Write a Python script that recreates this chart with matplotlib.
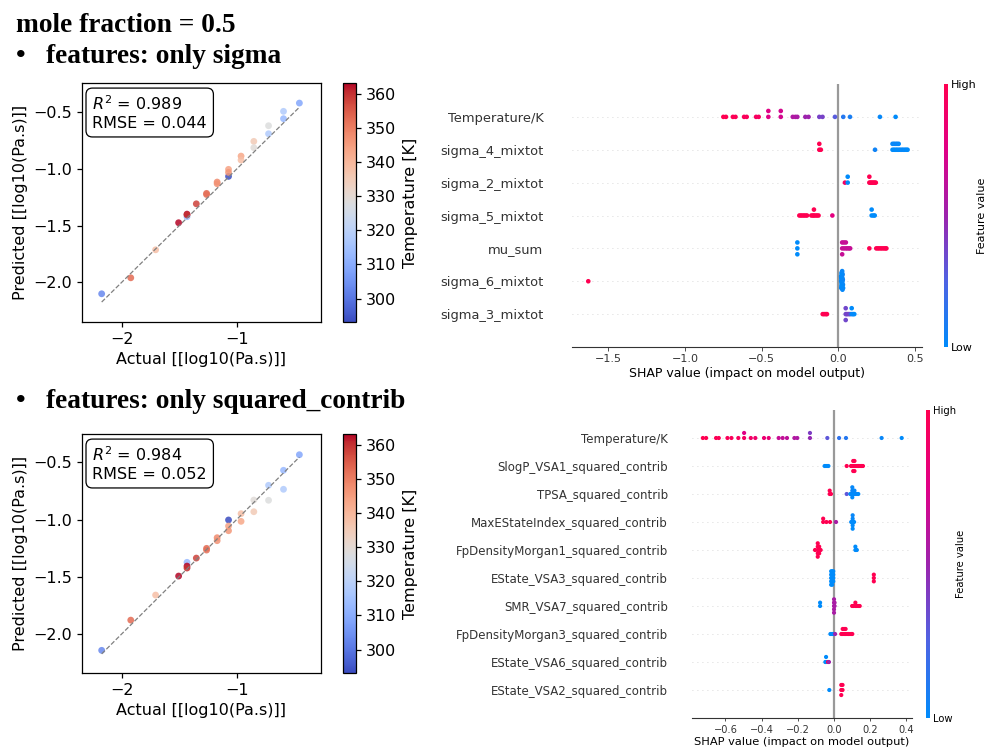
import numpy as np
import matplotlib.pyplot as plt
from matplotlib.colors import LinearSegmentedColormap, Normalize
from matplotlib.cm import ScalarMappable

#%% parity data (test set, mole fraction = 0.5)
actual = [-2.174, -1.921, -1.705, -1.505, -1.432, -1.432, -1.432, -1.351, -1.262, -1.262,
          -1.170, -1.170, -1.071, -1.071, -1.071, -0.962, -0.962, -0.851, -0.851, -0.723,
          -0.723, -0.593, -0.593, -0.455]
temp_K = [303, 353, 338, 363, 313, 363, 360, 358, 353, 352,
          348, 347, 293, 344, 346, 343, 338, 335, 329, 328,
          318, 318, 313, 309]
pred_sigma = [-2.101, -1.960, -1.713, -1.474, -1.421, -1.398, -1.405, -1.307, -1.215, -1.225,
              -1.115, -1.130, -1.065, -1.003, -1.030, -0.886, -0.921, -0.756, -0.812, -0.618,
              -0.689, -0.491, -0.556, -0.418]
pred_sq = [-2.143, -1.879, -1.660, -1.494, -1.374, -1.407, -1.424, -1.337, -1.252, -1.267,
           -1.159, -1.185, -1.004, -1.057, -1.098, -1.016, -0.949, -0.932, -0.830, -0.832,
           -0.701, -0.736, -0.570, -0.434]

#%% SHAP data, features ordered by importance
sigma_features = ['Temperature/K', 'sigma_4_mixtot', 'sigma_2_mixtot', 'sigma_5_mixtot',
                  'mu_sum', 'sigma_6_mixtot', 'sigma_3_mixtot']
sigma_shap = [
    [-0.750, -0.733, -0.688, -0.671, -0.615, -0.598, -0.537, -0.520, -0.457, -0.457, -0.376, -0.376,
     -0.298, -0.281, -0.268, -0.216, -0.195, -0.125, -0.104, -0.023, 0.031, 0.075, 0.270, 0.372],
    [-0.125, -0.125, -0.115, 0.238, 0.352, 0.352, 0.362, 0.362, 0.372, 0.372, 0.382, 0.382,
     0.392, 0.392, 0.402, 0.412, 0.422, 0.432, 0.442, 0.450],
    [0.042, 0.060, 0.060, 0.201, 0.201, 0.208, 0.215, 0.222, 0.229, 0.236, 0.243],
    [-0.255, -0.245, -0.235, -0.225, -0.215, -0.205, -0.177, -0.167, -0.160, -0.160, -0.150, -0.140,
     -0.130, -0.040, 0.216, 0.216, 0.228, 0.236],
    [-0.268, -0.268, -0.268, 0.024, 0.024, 0.024, 0.036, 0.036, 0.048, 0.048, 0.058, 0.068, 0.076,
     0.201, 0.246, 0.256, 0.266, 0.276, 0.286, 0.296, 0.306, 0.312],
    [-1.630, 0.017, 0.026, 0.019, 0.028, 0.021, 0.023, 0.018, 0.025, 0.020, 0.029, 0.022, 0.024,
     0.017, 0.027, 0.019, 0.021, 0.030, 0.023, 0.018, 0.026, 0.020, 0.024],
    [-0.103, -0.093, -0.083, -0.075, 0.047, 0.047, 0.047, 0.055, 0.065, 0.075, 0.086, 0.086, 0.095, 0.103],
]
sigma_fval = [
    [1.0, 1.0, 0.98, 0.98, 0.96, 0.96, 0.93, 0.93, 0.75, 0.75, 0.70, 0.70,
     0.57, 0.57, 0.55, 0.50, 0.50, 0.38, 0.38, 0.28, 0.12, 0.08, 0.02, 0.0],
    [1.0, 1.0, 1.0, 0.05, 0.0, 0.02, 0.0, 0.03, 0.0, 0.02, 0.0, 0.04, 0.0, 0.02, 0.0, 0.03, 0.0, 0.02, 0.0, 0.0],
    [0.92, 0.0, 0.0, 1.0, 1.0, 1.0, 1.0, 1.0, 1.0, 1.0, 1.0],
    [1.0, 1.0, 1.0, 1.0, 1.0, 1.0, 1.0, 1.0, 1.0, 1.0, 1.0, 1.0, 1.0, 0.78, 0.0, 0.0, 0.0, 0.0],
    [0.0, 0.0, 0.0, 0.65, 0.65, 0.65, 0.65, 0.65, 0.65, 0.65, 0.65, 0.65, 0.65,
     1.0, 1.0, 1.0, 1.0, 1.0, 1.0, 1.0, 1.0, 1.0],
    [1.0] + [0.0, 0.03, 0.0, 0.05, 0.0, 0.02, 0.0, 0.04, 0.0, 0.02, 0.0,
             0.03, 0.0, 0.05, 0.0, 0.02, 0.0, 0.04, 0.0, 0.02, 0.0, 0.03],
    [1.0, 1.0, 1.0, 1.0, 0.36, 0.36, 0.36, 0.38, 0.38, 0.34, 0.0, 0.0, 0.02, 0.0],
]

sq_features = ['Temperature/K', 'SlogP_VSA1_squared_contrib', 'TPSA_squared_contrib',
               'MaxEStateIndex_squared_contrib', 'FpDensityMorgan1_squared_contrib',
               'EState_VSA3_squared_contrib', 'SMR_VSA7_squared_contrib',
               'FpDensityMorgan3_squared_contrib', 'EState_VSA6_squared_contrib',
               'EState_VSA2_squared_contrib']
sq_shap = [
    [-0.725, -0.707, -0.652, -0.637, -0.589, -0.567, -0.529, -0.497, -0.497, -0.460, -0.435, -0.387,
     -0.361, -0.306, -0.284, -0.260, -0.219, -0.203, -0.133, -0.133, -0.037, 0.028, 0.066, 0.263, 0.374],
    [-0.052, -0.045, -0.038, -0.031, 0.070, 0.094, 0.100, 0.106, 0.106, 0.106, 0.113, 0.113, 0.113,
     0.120, 0.128, 0.136, 0.144, 0.152, 0.160],
    [-0.024, -0.024, -0.017, 0.070, 0.090, 0.096, 0.101, 0.101, 0.101, 0.101, 0.107, 0.107, 0.113,
     0.113, 0.120, 0.127, 0.134],
    [-0.060, -0.060, -0.042, -0.022, 0.011, 0.095, 0.103, 0.103, 0.103, 0.103, 0.103, 0.111],
    [-0.105, -0.090, -0.090, -0.090, -0.090, -0.090, -0.082, -0.082, -0.082, -0.074, 0.118, 0.118, 0.126],
    [-0.016, -0.016, -0.016, -0.016, -0.016, -0.010, -0.010, -0.010, -0.010, -0.010,
     -0.004, -0.004, -0.004, -0.004, 0.220, 0.220, 0.220],
    [-0.077, -0.077, 0.000, 0.000, 0.000, 0.000, 0.000, 0.003, 0.003, 0.100, 0.108, 0.118, 0.118,
     0.126, 0.134, 0.142],
    [-0.020, -0.012, -0.005, 0.006, 0.040, 0.048, 0.048, 0.056, 0.056, 0.064, 0.064, 0.072, 0.080,
     0.088, 0.096, 0.101],
    [-0.048, -0.044, -0.044, -0.033, -0.028],
    [-0.026, 0.040, 0.040, 0.040, 0.047, 0.047],
]
sq_fval = [
    [1.0, 1.0, 0.98, 0.98, 0.96, 0.96, 0.94, 0.92, 0.75, 0.90, 0.88, 0.85,
     0.83, 0.66, 0.64, 0.62, 0.58, 0.56, 0.48, 0.40, 0.30, 0.15, 0.12, 0.03, 0.0],
    [0.0, 0.0, 0.0, 0.0] + [1.0] * 15,
    [1.0, 1.0, 1.0, 0.30] + [0.0, 0.02, 0.0, 0.03, 0.0, 0.02, 0.0, 0.04, 0.0, 0.02, 0.0, 0.03, 0.0],
    [1.0, 1.0, 1.0, 1.0, 0.55, 0.0, 0.0, 0.02, 0.0, 0.03, 0.0, 0.0],
    [1.0] * 10 + [0.0, 0.0, 0.0],
    [0.0] * 14 + [1.0, 1.0, 1.0],
    [0.0, 0.0] + [0.55] * 7 + [1.0] * 7,
    [0.0, 0.0, 0.0, 0.50] + [1.0] * 12,
    [0.0, 0.0, 0.0, 1.0, 0.50],
    [0.0, 1.0, 1.0, 1.0, 1.0, 1.0],
]

#%% figure laid out in pixels like the slide
W, H = 987, 749
fig = plt.figure(figsize=(W / 100, H / 100), dpi=100)

def px_axes(x0, y0, x1, y1):
    return fig.add_axes([x0 / W, 1 - y1 / H, (x1 - x0) / W, (y1 - y0) / H])

shap_cmap = LinearSegmentedColormap.from_list(
    'red_blue', ['#008bfb', '#4f63e3', '#9c23ad', '#e00086', '#ff0051'])
t_norm = Normalize(293.15, 363.15)


def swarm_offsets(values, row_height=0.4, nbins=100):
    # same binning/layering as shap's beeswarm
    v = np.asarray(values, dtype=float)
    quant = np.round(nbins * (v - v.min()) / (v.max() - v.min() + 1e-8))
    order = np.argsort(quant, kind='stable')
    ys = np.zeros(len(v))
    layer, last = 0, None
    for i in order:
        if quant[i] != last:
            layer = 0
        ys[i] = np.ceil(layer / 2) * ((layer % 2) * 2 - 1)
        layer += 1
        last = quant[i]
    return ys * 0.9 * (row_height / np.max(ys + 1))


def parity_panel(ax, cax, pred, r2, rmse, ylim):
    ax.scatter(actual, pred, c=temp_K, cmap='coolwarm', norm=t_norm, s=24,
               alpha=0.85, edgecolors='none')
    lo, hi = min(actual), max(actual)
    ax.plot([lo, hi], [lo, hi], linestyle='--', color='grey', lw=0.9)
    ax.set_xlim(-2.345, -0.267)
    ax.set_ylim(ylim)
    ax.set_xticks([-2, -1])
    ax.set_yticks([-2.0, -1.5, -1.0, -0.5])
    ax.tick_params(labelsize=11.5, length=3.6, width=0.9)
    ax.set_xlabel('Actual [[log10(Pa.s)]]', fontsize=11.5)
    ax.set_ylabel('Predicted [[log10(Pa.s)]]', fontsize=11.5)
    for sp in ax.spines.values():
        sp.set_linewidth(0.9)
    ax.text(0.0435, 0.952, f'$R^2$ = {r2:.3f}\nRMSE = {rmse:.3f}', transform=ax.transAxes,
            ha='left', va='top', fontsize=11.5,
            bbox=dict(boxstyle='round,pad=0.4', facecolor='white', edgecolor='black', lw=0.9))
    cb = fig.colorbar(ScalarMappable(norm=t_norm, cmap='coolwarm'), cax=cax)
    cb.set_label('Temperature [K]', fontsize=11.5, labelpad=5)
    cb.ax.tick_params(labelsize=11.5, length=3.6, width=0.9)
    cb.outline.set_linewidth(0.9)


def shap_panel(ax, cax, names, shap_rows, fval_rows, xlim, xticks, lab, tick, cbfs, dot, ypad):
    n = len(names)
    for i in range(n):
        pos = n - 1 - i
        vals = np.asarray(shap_rows[i])
        ax.axhline(pos, color='#cccccc', lw=0.6, dashes=(1, 5), zorder=-1)
        ax.scatter(vals, pos + swarm_offsets(vals), c=fval_rows[i], cmap=shap_cmap,
                   vmin=0, vmax=1, s=dot, linewidth=0, zorder=3)
    ax.axvline(0, color='#999999', lw=1.6, zorder=-1)
    ax.set_xlim(xlim)
    ax.set_ylim(-1, n)
    ax.set_yticks(range(n))
    ax.set_yticklabels(names[::-1], fontsize=lab)
    ax.set_xticks(xticks)
    ax.set_xticklabels([f'{t:.1f}'.replace('-', '\u2212') for t in xticks])
    for s in ['top', 'right', 'left']:
        ax.spines[s].set_visible(False)
    ax.spines['bottom'].set_color('#333333')
    ax.yaxis.set_ticks_position('none')
    ax.tick_params(axis='y', pad=ypad, labelcolor='#333333')
    ax.tick_params(axis='x', labelsize=tick, length=tick * 0.33, width=0.6,
                   pad=tick * 0.33, color='#333333', labelcolor='#333333')
    ax.set_xlabel('SHAP value (impact on model output)', fontsize=lab * 0.96, labelpad=2)
    cb = fig.colorbar(ScalarMappable(norm=Normalize(0, 1), cmap=shap_cmap), cax=cax, ticks=[0, 1])
    cb.set_ticklabels(['Low', 'High'])
    cb.ax.tick_params(labelsize=cbfs, length=0, pad=2)
    cb.outline.set_visible(False)
    cb.set_label('Feature value', size=cbfs, labelpad=0)


#%% panels
ax1 = px_axes(82, 83, 321, 322)
cax1 = px_axes(343, 83, 356, 322)
parity_panel(ax1, cax1, pred_sigma, 0.989, 0.044, (-2.35, -0.241))

ax2 = px_axes(82, 434, 321, 673)
cax2 = px_axes(343, 434, 356, 673)
parity_panel(ax2, cax2, pred_sq, 0.984, 0.052, (-2.341, -0.253))

ax3 = px_axes(572, 84, 922, 347)
cax3 = px_axes(944, 84, 948, 347)
shap_panel(ax3, cax3, sigma_features, sigma_shap, sigma_fval, (-1.736, 0.544),
           [-1.5, -1.0, -0.5, 0.0, 0.5], 9.4, 8.0, 8.0, 11, 17)

ax4 = px_axes(692, 410, 912, 718)
cax4 = px_axes(926, 410, 930, 718)
shap_panel(ax4, cax4, sq_features, sq_shap, sq_fval, (-0.785, 0.431),
           [-0.6, -0.4, -0.2, 0.0, 0.2, 0.4], 8.5, 7.1, 7.2, 9, 14)

#%% slide headings
head = dict(family='Liberation Serif', weight='bold', fontsize=19.7, va='baseline')
fig.text(16 / W, 1 - 32 / H, 'mole fraction = 0.5', **head)
fig.text(16 / W, 1 - 63 / H, '\u2022', **head)
fig.text(46 / W, 1 - 63 / H, 'features: only sigma', **head)
fig.text(16 / W, 1 - 408 / H, '\u2022', **head)
fig.text(46 / W, 1 - 408 / H, 'features: only squared_contrib', **head)

fig.savefig('out.png', dpi=100)
